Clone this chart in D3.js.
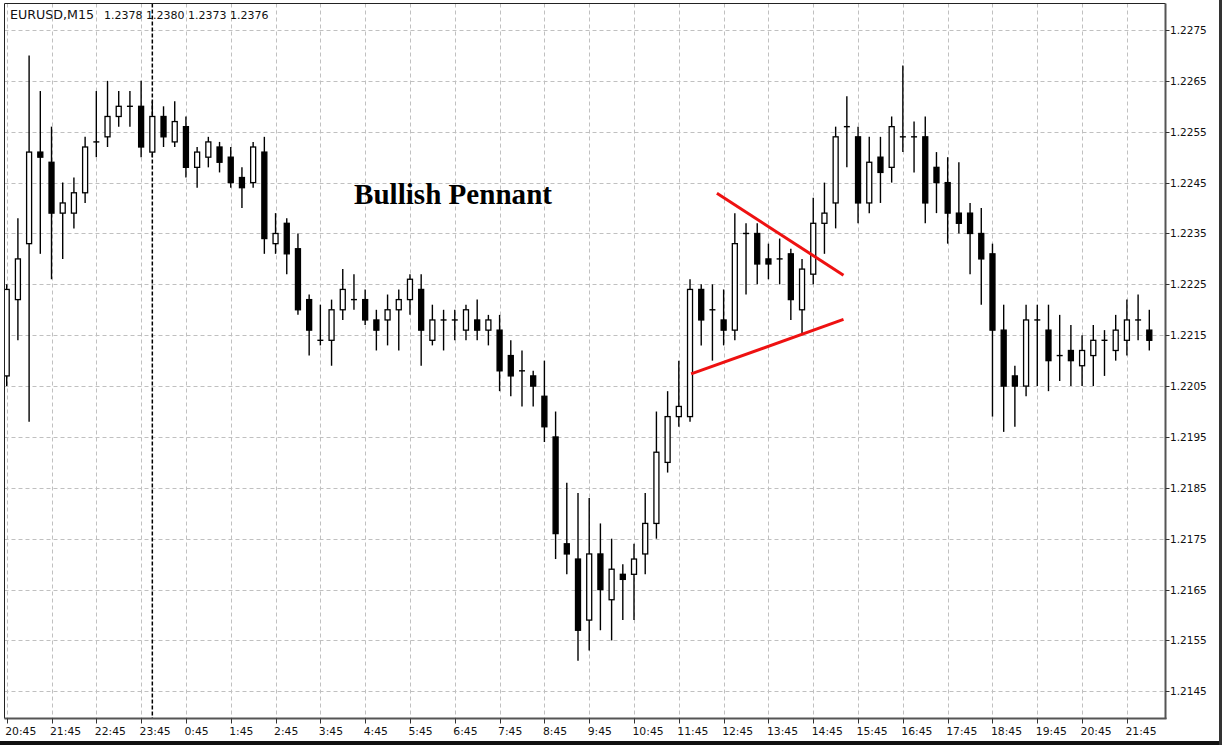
<!DOCTYPE html>
<html>
<head>
<meta charset="utf-8">
<script src="https://cdn.jsdelivr.net/npm/d3@7"></script>
<style>
  html, body { margin: 0; padding: 0; background: #fff; }
  svg { display: block; }
</style>
</head>
<body>
<svg id="chart" width="1222" height="745"></svg>
<script>
// ---- data -------------------------------------------------------------
const symbolLabel = "EURUSD,M15";
const quoteLabel = ["1.2378", "1.2380", "1.2373", "1.2376"];

// hour ticks, one every 4 bars (15-minute bars)
const hourLabels = ["20:45","21:45","22:45","23:45","0:45","1:45","2:45","3:45","4:45",
  "5:45","6:45","7:45","8:45","9:45","10:45","11:45","12:45","13:45","14:45","15:45",
  "16:45","17:45","18:45","19:45","20:45","21:45"];

const priceTicks = [1.2145,1.2155,1.2165,1.2175,1.2185,1.2195,1.2205,1.2215,1.2225,
  1.2235,1.2245,1.2255,1.2265,1.2275];

const open = [1.2207,1.2222,1.2233,1.2251,1.2249,1.2239,1.2239,1.2243,1.2253,1.2254,
  1.2258,1.2260,1.2260,1.2251,1.2258,1.2253,1.2256,1.2248,1.2250,1.2252,
  1.2250,1.2246,1.2245,1.2251,1.2233,1.2237,1.2232,1.2222,1.2214,1.2214,
  1.2220,1.2222,1.2222,1.2218,1.2218,1.2220,1.2222,1.2224,1.2214,1.2218,
  1.2218,1.2216,1.2218,1.2216,1.2216,1.2211,1.2208,1.2207,1.2203,1.2195,
  1.2174,1.2171,1.2159,1.2172,1.2163,1.2168,1.2168,1.2172,1.2178,1.2190,
  1.2199,1.2199,1.2224,1.2220,1.2218,1.2216,1.2235,1.2235,1.2230,1.2230,
  1.2231,1.2220,1.2227,1.2237,1.2241,1.2256,1.2254,1.2241,1.2250,1.2248,
  1.2254,1.2254,1.2254,1.2248,1.2245,1.2239,1.2239,1.2235,1.2231,1.2216,
  1.2207,1.2205,1.2218,1.2216,1.2211,1.2212,1.2209,1.2211,1.2214,1.2212,
  1.2214,1.2218,1.2216];

const high = [1.2225,1.2238,1.2270,1.2263,1.2256,1.2245,1.2246,1.2254,1.2263,1.2265,
  1.2263,1.2263,1.2265,1.2261,1.2260,1.2261,1.2258,1.2252,1.2254,1.2253,
  1.2252,1.2248,1.2253,1.2254,1.2239,1.2238,1.2235,1.2223,1.2221,1.2222,
  1.2228,1.2227,1.2224,1.2220,1.2223,1.2224,1.2227,1.2227,1.2221,1.2220,
  1.2220,1.2221,1.2222,1.2219,1.2219,1.2214,1.2212,1.2208,1.2210,1.2200,
  1.2186,1.2184,1.2183,1.2178,1.2175,1.2170,1.2174,1.2184,1.2200,1.2204,
  1.2210,1.2226,1.2225,1.2225,1.2224,1.2239,1.2237,1.2237,1.2233,1.2234,
  1.2232,1.2230,1.2242,1.2245,1.2256,1.2262,1.2256,1.2254,1.2254,1.2258,
  1.2268,1.2257,1.2258,1.2251,1.2250,1.2249,1.2241,1.2240,1.2233,1.2221,
  1.2209,1.2221,1.2221,1.2221,1.2219,1.2217,1.2215,1.2217,1.2216,1.2219,
  1.2222,1.2223,1.2220];

const low = [1.2205,1.2214,1.2198,1.2231,1.2226,1.2230,1.2236,1.2241,1.2250,1.2252,
  1.2256,1.2256,1.2250,1.2250,1.2252,1.2252,1.2246,1.2244,1.2248,1.2247,
  1.2244,1.2240,1.2244,1.2231,1.2231,1.2227,1.2219,1.2211,1.2213,1.2209,
  1.2218,1.2220,1.2217,1.2212,1.2213,1.2212,1.2219,1.2209,1.2213,1.2212,
  1.2214,1.2214,1.2214,1.2213,1.2204,1.2203,1.2201,1.2201,1.2194,1.2171,
  1.2168,1.2151,1.2153,1.2157,1.2155,1.2159,1.2159,1.2168,1.2175,1.2188,
  1.2197,1.2198,1.2213,1.2210,1.2213,1.2214,1.2223,1.2225,1.2226,1.2225,
  1.2218,1.2215,1.2225,1.2231,1.2236,1.2248,1.2237,1.2239,1.2241,1.2245,
  1.2251,1.2247,1.2237,1.2239,1.2233,1.2235,1.2227,1.2221,1.2199,1.2196,
  1.2197,1.2203,1.2205,1.2204,1.2206,1.2205,1.2205,1.2205,1.2207,1.2210,
  1.2211,1.2214,1.2212];

const close = [1.2224,1.2230,1.2251,1.2250,1.2239,1.2241,1.2243,1.2252,1.2253,1.2258,
  1.2260,1.2260,1.2252,1.2258,1.2254,1.2257,1.2248,1.2251,1.2253,1.2249,
  1.2245,1.2244,1.2252,1.2234,1.2235,1.2231,1.2220,1.2216,1.2214,1.2220,
  1.2224,1.2222,1.2218,1.2216,1.2220,1.2222,1.2226,1.2216,1.2218,1.2218,
  1.2218,1.2220,1.2216,1.2218,1.2208,1.2207,1.2208,1.2205,1.2197,1.2176,
  1.2172,1.2157,1.2172,1.2165,1.2169,1.2167,1.2171,1.2178,1.2192,1.2199,
  1.2201,1.2224,1.2218,1.2220,1.2216,1.2233,1.2235,1.2229,1.2229,1.2230,
  1.2222,1.2228,1.2237,1.2239,1.2254,1.2256,1.2241,1.2249,1.2247,1.2256,
  1.2254,1.2254,1.2241,1.2245,1.2239,1.2237,1.2235,1.2230,1.2216,1.2205,
  1.2205,1.2218,1.2218,1.2210,1.2211,1.2210,1.2212,1.2214,1.2214,1.2216,
  1.2218,1.2218,1.2214];

// pennant trend lines: [bar index, price]
const pennantUpper = [[63.4, 1.22429], [74.7, 1.22268]];
const pennantLower = [[61.1, 1.22074], [74.7, 1.22181]];
const patternTitle = "Bullish Pennant";
const separatorBar = 13;   // dotted period separator

// ---- layout -----------------------------------------------------------
const W = 1222, H = 745;
const plot = { left: 4.5, top: 3.5, right: 1165.5, bottom: 718.5 };

const bars = open.map((o, i) => ({ i, o, h: high[i], l: low[i], c: close[i] }));

const x = d3.scaleLinear().domain([0, 100]).range([6.7, 1126.9]);
const y = d3.scaleLinear().domain([1.2145, 1.2275]).range([691.3, 30.0]);

const svg = d3.select("#chart");

svg.append("rect").attr("width", W).attr("height", H).attr("fill", "#fff");

svg.append("defs").append("clipPath").attr("id", "plotClip")
  .append("rect")
  .attr("x", plot.left + 0.5).attr("y", plot.top + 0.5)
  .attr("width", plot.right - plot.left - 1)
  .attr("height", plot.bottom - plot.top - 1);

const grid = svg.append("g").attr("clip-path", "url(#plotClip)");

// horizontal grid
grid.selectAll("line.hg").data(priceTicks).join("line")
  .attr("class", "hg")
  .attr("x1", plot.left).attr("x2", plot.right)
  .attr("y1", d => Math.round(y(d)) + 0.5).attr("y2", d => Math.round(y(d)) + 0.5)
  .attr("stroke", "#c0c0c0").attr("stroke-width", 1)
  .attr("stroke-dasharray", "4,3");

// vertical grid at hour ticks
const hourIdx = hourLabels.map((_, k) => k * 4);
grid.selectAll("line.vg").data(hourIdx).join("line")
  .attr("class", "vg")
  .attr("y1", plot.top).attr("y2", plot.bottom)
  .attr("x1", d => Math.round(x(d)) + 0.5).attr("x2", d => Math.round(x(d)) + 0.5)
  .attr("stroke", "#c0c0c0").attr("stroke-width", 1)
  .attr("stroke-dasharray", "4,3");

// period separator
grid.append("line")
  .attr("x1", x(separatorBar)).attr("x2", x(separatorBar))
  .attr("y1", plot.top).attr("y2", plot.bottom)
  .attr("stroke", "#000").attr("stroke-width", 1.5)
  .attr("stroke-dasharray", "4,2");

// ---- candles ----------------------------------------------------------
const candles = svg.append("g").attr("clip-path", "url(#plotClip)");
const half = 2.5;

candles.selectAll("line.wick").data(bars).join("line")
  .attr("class", "wick")
  .attr("x1", d => x(d.i)).attr("x2", d => x(d.i))
  .attr("y1", d => y(d.h)).attr("y2", d => y(d.l))
  .attr("stroke", "#000").attr("stroke-width", 1.4);

const bodies = bars.filter(d => Math.abs(d.c - d.o) > 1e-7);
candles.selectAll("rect.body").data(bodies).join("rect")
  .attr("class", "body")
  .attr("x", d => x(d.i) - half)
  .attr("width", half * 2)
  .attr("y", d => y(Math.max(d.o, d.c)))
  .attr("height", d => Math.abs(y(d.o) - y(d.c)))
  .attr("fill", d => d.c > d.o ? "#fff" : "#000")
  .attr("stroke", "#000").attr("stroke-width", 1.3);

const dojis = bars.filter(d => Math.abs(d.c - d.o) <= 1e-7);
candles.selectAll("line.doji").data(dojis).join("line")
  .attr("class", "doji")
  .attr("x1", d => x(d.i) - half - 0.5).attr("x2", d => x(d.i) + half + 0.5)
  .attr("y1", d => y(d.o)).attr("y2", d => y(d.o))
  .attr("stroke", "#000").attr("stroke-width", 1.4);

// ---- pennant ----------------------------------------------------------
const trend = d3.line().x(d => x(d[0])).y(d => y(d[1]));
svg.selectAll("path.pennant").data([pennantUpper, pennantLower]).join("path")
  .attr("class", "pennant")
  .attr("d", trend)
  .attr("fill", "none")
  .attr("stroke", "#ee1111").attr("stroke-width", 3);

svg.append("text")
  .attr("x", 354).attr("y", 203.5)
  .attr("font-family", "'Liberation Serif', 'Times New Roman', serif")
  .attr("font-weight", "bold").attr("font-size", 28.5)
  .attr("textLength", 198).attr("lengthAdjust", "spacingAndGlyphs")
  .attr("fill", "#000")
  .text(patternTitle);

// ---- frame & axes -----------------------------------------------------
svg.append("line").attr("x1", plot.left).attr("x2", plot.left)
  .attr("y1", plot.top).attr("y2", plot.bottom).attr("stroke", "#222").attr("stroke-width", 1);
svg.append("line").attr("x1", plot.left).attr("x2", plot.right)
  .attr("y1", plot.top).attr("y2", plot.top).attr("stroke", "#222").attr("stroke-width", 1);
svg.append("line").attr("x1", plot.right).attr("x2", plot.right)
  .attr("y1", plot.top).attr("y2", plot.bottom + 0.5).attr("stroke", "#555").attr("stroke-width", 2);
svg.append("line").attr("x1", plot.left).attr("x2", plot.right + 1)
  .attr("y1", plot.bottom).attr("y2", plot.bottom).attr("stroke", "#555").attr("stroke-width", 2);

const axisFont = "'DejaVu Sans', Verdana, sans-serif";

// price axis
const yAxis = svg.append("g");
yAxis.selectAll("line").data(priceTicks).join("line")
  .attr("x1", plot.right).attr("x2", plot.right + 4)
  .attr("y1", d => Math.round(y(d)) + 0.5).attr("y2", d => Math.round(y(d)) + 0.5)
  .attr("stroke", "#333");
yAxis.selectAll("text").data(priceTicks).join("text")
  .attr("x", plot.right + 4.5)
  .attr("y", d => y(d) + 4)
  .attr("font-family", axisFont).attr("font-size", 10.5).attr("fill", "#111")
  .text(d => d.toFixed(4));

// time axis
const xAxis = svg.append("g");
xAxis.selectAll("line").data(hourIdx).join("line")
  .attr("x1", d => Math.round(x(d)) + 0.5).attr("x2", d => Math.round(x(d)) + 0.5)
  .attr("y1", plot.bottom).attr("y2", plot.bottom + 5)
  .attr("stroke", "#333");
xAxis.selectAll("text").data(hourLabels).join("text")
  .attr("x", (d, k) => x(k * 4) - 1.5)
  .attr("y", 735)
  .attr("font-family", axisFont).attr("font-size", 10.8).attr("fill", "#111")
  .text(d => d);

// header
svg.append("text")
  .attr("x", 10).attr("y", 19)
  .attr("font-family", axisFont).attr("font-size", 11.5).attr("fill", "#111")
  .attr("textLength", 84).attr("lengthAdjust", "spacingAndGlyphs")
  .text(symbolLabel);
svg.append("text")
  .attr("x", 104).attr("y", 19)
  .attr("font-family", axisFont).attr("font-size", 11).attr("fill", "#111")
  .text(quoteLabel.join(" "));

// window edge
svg.append("rect").attr("x", 0).attr("y", 741).attr("width", W).attr("height", 4).attr("fill", "#111");
svg.append("rect").attr("x", 1219).attr("y", 0).attr("width", 3).attr("height", H).attr("fill", "#333");
</script>
</body>
</html>
